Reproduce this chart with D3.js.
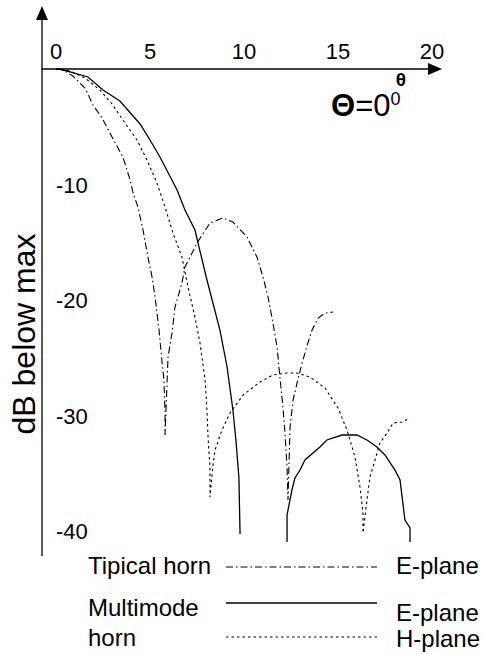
<!DOCTYPE html>
<html>
  <head>
    <title></title>
    <script src="https://cdnjs.cloudflare.com/ajax/libs/d3/7.8.5/d3.min.js"></script>
    <style>
      body { margin: 0; background: #fff; }
      text { font-family: "Liberation Sans", Arial, sans-serif; fill: #000; }
    </style>
  </head>
  <body>
    <script type="text/javascript">

    var width = 483,
        height = 654;

    // angle (deg) and level (dB), null = gap between lobes
    var typicalE_x = [0, 0.37, 0.9, 1.54, 1.97, 2.45, 2.98, 3.56, 3.94, 4.1, 4.36, 4.63, 4.89, 5.11, 5.27, 5.48, 5.64, 5.74, 5.8, 5.8,
                      5.96, 6.17, 6.33, 6.7, 6.86, 7.13, 7.5, 8.19, 8.88, 9.41, 10.16, 10.69, 11.01, 11.28, 11.54, 11.76, 11.91, 12.07, 12.18, 12.29, 12.34,
                      12.45, 12.61, 12.82, 13.09, 13.4, 13.62, 13.94, 14.31, 14.73];
    var typicalE_y = [0, -0.09, -0.61, -1.65, -3.12, -4.24, -5.89, -7.62, -9.61, -10.74, -11.95, -13.94, -16.28, -18.01, -19.74, -22.6, -25.37, -26.93, -29.78, -31.69,
                      -24.94, -22.86, -20.61, -18.53, -17.14, -16.28, -15.06, -13.33, -12.9, -13.25, -14.55, -16.28, -18.01, -19.74, -21.99, -24.07, -26.67, -29.26, -31.52, -34.46, -37.32,
                      -31.0, -28.66, -27.19, -25.45, -23.72, -22.6, -21.56, -21.13, -21.04];

    var multiE_x = [0, 0.21, 1.7, 2.5, 3.4, 4.47, 5.0, 5.53, 6.44, 6.86, 7.39, 8.03, 8.72, 9.1, 9.41, 9.57, 9.73, 9.79,
                    null,
                    12.29, 12.29, 12.55, 12.71, 12.98, 13.24, 14.04, 14.41, 15.21, 16.01, 16.54, 17.07, 17.5, 18.03, 18.3, 18.56, 18.83, 18.83];
    var multiE_y = [0, 0, -0.69, -1.82, -2.77, -4.76, -6.15, -7.62, -10.48, -12.21, -13.94, -18.27, -22.6, -25.8, -29.52, -32.12, -35.41, -40.26,
                    null,
                    -40.95, -38.61, -36.45, -35.41, -34.72, -33.85, -32.73, -32.12, -31.69, -31.69, -32.12, -32.73, -33.42, -34.72, -35.58, -39.05, -39.74, -40.95];

    var multiH_x = [0, 0.74, 1.54, 2.34, 2.98, 3.67, 4.31, 4.84, 5.37, 5.8, 6.22, 6.7, 7.02, 7.39, 7.66, 7.93, 8.03, 8.09, 8.19, 8.19,
                    8.35, 8.46, 8.83, 9.26, 9.95, 10.85, 11.54, 12.29, 12.82, 13.51, 14.31, 15.0, 15.48, 15.9, 16.17, 16.33, 16.33,
                    16.54, 16.7, 16.97, 17.23, 17.61, 17.93, 18.4, 18.83];
    var multiH_y = [0, -0.17, -0.78, -1.82, -3.03, -4.68, -6.15, -7.88, -9.87, -11.95, -14.2, -16.28, -18.87, -21.47, -23.72, -26.93, -29.52, -31.95, -34.46, -37.06,
                    -34.29, -32.99, -31.26, -29.78, -28.23, -27.1, -26.49, -26.32, -26.32, -26.67, -27.62, -29.35, -31.26, -33.59, -36.19, -38.44, -40.17,
                    -37.32, -35.32, -33.85, -32.38, -31.52, -30.65, -30.56, -30.22];

    var xTicks = [0, 5, 10, 15, 20];
    var yTicks = [-10, -20, -30, -40];

    var series = [
      {name: "typicalE", xs: typicalE_x, ys: typicalE_y, dash: "7,3,1.5,3", w: 1.1},
      {name: "multiE", xs: multiE_x, ys: multiE_y, dash: null, w: 1.3},
      {name: "multiH", xs: multiH_x, ys: multiH_y, dash: "2.5,3", w: 1.1}
    ];

    var x = d3.scaleLinear().domain([0, 20]).range([56, 432]);
    var y = d3.scaleLinear().domain([0, -40]).range([69, 531]);

    var svg = d3.select("body").append("svg")
        .attr("width", width)
        .attr("height", height);

    // axes with arrow heads
    svg.append("line")
        .attr("x1", 42).attr("y1", 16).attr("x2", 42).attr("y2", 556)
        .attr("stroke", "#000").attr("stroke-width", 1.3);
    svg.append("path")
        .attr("d", "M42,6 L36,20 L48,20 Z")
        .attr("fill", "#000");

    svg.append("line")
        .attr("x1", 42).attr("y1", y(0)).attr("x2", 432).attr("y2", y(0))
        .attr("stroke", "#000").attr("stroke-width", 1.3);
    svg.append("path")
        .attr("d", "M442," + y(0) + " L428," + (y(0) - 6) + " L428," + (y(0) + 6) + " Z")
        .attr("fill", "#000");

    svg.selectAll(".xtick")
        .data(xTicks).enter()
      .append("text")
        .attr("class", "xtick")
        .attr("x", function(d) { return x(d); })
        .attr("y", 59)
        .attr("text-anchor", "middle")
        .style("font-size", "22px")
        .text(function(d) { return d; });

    svg.selectAll(".ytick")
        .data(yTicks).enter()
      .append("text")
        .attr("class", "ytick")
        .attr("x", 56)
        .attr("y", function(d) { return y(d) + 8; })
        .style("font-size", "22px")
        .text(function(d) { return d; });

    svg.append("text")
        .attr("transform", "translate(35,334) rotate(-90)")
        .attr("text-anchor", "middle")
        .style("font-size", "32px")
        .text("dB below max");

    svg.append("text")
        .attr("x", 401).attr("y", 86)
        .attr("text-anchor", "middle")
        .style("font-size", "19px")
        .style("font-weight", "bold")
        .text("θ");

    var eq = svg.append("text")
        .attr("x", 331).attr("y", 116)
        .style("font-size", "31px");
    eq.append("tspan").style("font-weight", "bold").text("Θ");
    eq.append("tspan").text("=0");
    eq.append("tspan").attr("dy", -11).style("font-size", "18px").text("0");

    // curves
    var line = d3.line()
        .defined(function(d) { return d[1] !== null; })
        .x(function(d) { return x(d[0]); })
        .y(function(d) { return y(d[1]); });

    svg.selectAll(".curve")
        .data(series).enter()
      .append("path")
        .attr("class", "curve")
        .attr("fill", "none")
        .attr("stroke", "#000")
        .attr("stroke-width", function(d) { return d.w; })
        .attr("stroke-dasharray", function(d) { return d.dash; })
        .attr("d", function(d) {
          return line(d.xs.map(function(v, i) { return [v, d.ys[i]]; }));
        });

    // legend
    var legend = [
      {label: "Tipical horn", plane: "E-plane", ly: 567, ty: 574, py: 574, s: series[0]},
      {label: "Multimode", plane: "E-plane", ly: 603, ty: 616, py: 621, s: series[1]},
      {label: "horn", plane: "H-plane", ly: 637, ty: 646, py: 647, s: series[2]}
    ];

    var lg = svg.selectAll(".legend")
        .data(legend).enter()
      .append("g")
        .attr("class", "legend");

    lg.append("text")
        .attr("x", 88).attr("y", function(d) { return d.ty; })
        .style("font-size", "24px")
        .text(function(d) { return d.label; });

    lg.append("line")
        .attr("x1", 226).attr("x2", 377)
        .attr("y1", function(d) { return d.ly; })
        .attr("y2", function(d) { return d.ly; })
        .attr("stroke", "#000")
        .attr("stroke-width", function(d) { return d.s.w; })
        .attr("stroke-dasharray", function(d) { return d.s.dash; });

    lg.append("text")
        .attr("x", 396).attr("y", function(d) { return d.py; })
        .style("font-size", "24px")
        .text(function(d) { return d.plane; });

    </script>
  </body>
</html>
